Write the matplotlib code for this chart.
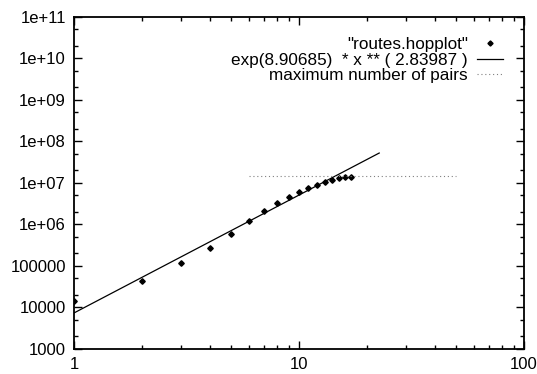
from matplotlib import pyplot as plt
from matplotlib.ticker import LogLocator, FixedLocator, FixedFormatter, NullFormatter
import numpy as np

plt.rcParams['font.family'] = ['Liberation Sans', 'DejaVu Sans']
plt.rcParams['font.size'] = 12

# hop plot data (hops, number of pairs within h hops)
hops = [1, 2, 3, 4, 5, 6, 7, 8, 9, 10, 11, 12, 13, 14, 15, 16, 17]
pairs = [14600, 44000, 115000, 267000, 600000, 1.18e6, 2.08e6, 3.3e6, 4.5e6,
         6.2e6, 7.5e6, 9.0e6, 1.05e7, 1.19e7, 1.31e7, 1.38e7, 1.42e7]

# power law fit
fit_a = 8.90685
fit_b = 2.83987
fit_x = np.linspace(1, 22.7, 100)
fit_y = np.exp(fit_a) * fit_x ** fit_b

# maximum number of pairs
max_x = [6.0, 50.0]
max_y = [1.5e7, 1.5e7]

yticks = [1e3, 1e4, 1e5, 1e6, 1e7, 1e8, 1e9, 1e10, 1e11]
ylabels = ["1000", "10000", "100000", "1e+06", "1e+07", "1e+08", "1e+09", "1e+10", "1e+11"]
xticks = [1, 10, 100]
xlabels = ["1", "10", "100"]

fig = plt.figure(figsize=(5.37, 3.74), dpi=100)
ax = fig.add_axes([0.138, 0.067, 0.838, 0.888])

ax.plot(hops, pairs, linestyle='none', marker='D', markersize=2.8, color='black',
        label='"routes.hopplot"')
ax.plot(fit_x, fit_y, color='black', linewidth=0.9,
        label='exp(8.90685)  * x ** ( 2.83987 )')
ax.plot(max_x, max_y, color='0.5', linestyle=(0, (1, 2.5)), linewidth=0.8,
        label='maximum number of pairs')

ax.set_xscale('log')
ax.set_yscale('log')
ax.set_xlim(1, 100)
ax.set_ylim(1e3, 1e11)

ax.yaxis.set_major_locator(FixedLocator(yticks))
ax.yaxis.set_major_formatter(FixedFormatter(ylabels))
ax.yaxis.set_minor_locator(LogLocator(base=10, subs=[2, 5], numticks=50))
ax.yaxis.set_minor_formatter(NullFormatter())
ax.xaxis.set_major_locator(FixedLocator(xticks))
ax.xaxis.set_major_formatter(FixedFormatter(xlabels))
ax.xaxis.set_minor_locator(LogLocator(base=10, subs=np.arange(2, 10), numticks=20))
ax.xaxis.set_minor_formatter(NullFormatter())

ax.tick_params(which='both', direction='in', top=True, right=True, width=1)
ax.tick_params(which='major', length=6, pad=6)
ax.tick_params(which='minor', length=3)
for s in ax.spines.values():
    s.set_linewidth(1.3)

leg = ax.legend(loc='upper right', bbox_to_anchor=(0.953, 0.94), markerfirst=False,
                frameon=False, borderpad=0, borderaxespad=0, labelspacing=0.05,
                handlelength=1.5, handletextpad=0.55, fontsize=12.3)
leg.legend_handles[0].set_markersize(2.6)

fig.savefig('out.png', dpi=100)
